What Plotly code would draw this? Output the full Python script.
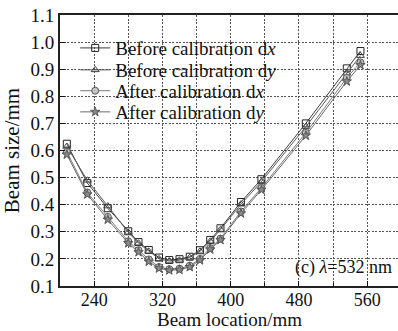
import plotly.graph_objects as go

# ---- data ----
beam_location = [208, 232, 256, 280, 292, 304, 316, 328, 340, 352, 364, 376, 388, 412, 436, 488, 536, 552]
before_dx = [0.625, 0.480, 0.387, 0.302, 0.262, 0.233, 0.205, 0.196, 0.199, 0.208, 0.232, 0.270, 0.313, 0.410, 0.494, 0.700, 0.903, 0.967]
before_dy = [0.615, 0.490, 0.395, 0.298, 0.258, 0.228, 0.200, 0.192, 0.195, 0.205, 0.228, 0.265, 0.308, 0.402, 0.485, 0.688, 0.885, 0.950]
after_dx = [0.595, 0.445, 0.355, 0.265, 0.232, 0.198, 0.170, 0.162, 0.164, 0.175, 0.200, 0.240, 0.275, 0.375, 0.462, 0.665, 0.868, 0.925]
after_dy = [0.585, 0.438, 0.345, 0.258, 0.225, 0.190, 0.165, 0.158, 0.160, 0.170, 0.195, 0.235, 0.270, 0.368, 0.455, 0.655, 0.855, 0.915]

series_names = ["Before calibration d<i>x</i>", "Before calibration d<i>y</i>",
                "After calibration d<i>x</i>", "After calibration d<i>y</i>"]
x_tickvals = [240, 320, 400, 480, 560]
y_tickvals = [0.1, 0.2, 0.3, 0.4, 0.5, 0.6, 0.7, 0.8, 0.9, 1.0, 1.1]
panel_label = "(c) <i>λ</i>=532 nm"
x_title = "Beam location/mm"
y_title = "Beam size/mm"

FONT = "Liberation Serif, Times New Roman, serif"

styles = [
    dict(symbol="square-open", line_color="#3c3c3c", mcolor="#222222", mfill=None, size=7),
    dict(symbol="triangle-up-open", line_color="#5a5a5a", mcolor="#444444", mfill=None, size=7),
    dict(symbol="circle", line_color="#7a7a7a", mcolor="#555555", mfill="#c4c4c4", size=7),
    dict(symbol="star", line_color="#6a6a6a", mcolor="#555555", mfill="#8a8a8a", size=7),
]

# one legend box per entry so the rows can sit as tightly as in the reference
legend_ids = ["legend", "legend2", "legend3", "legend4"]
legend_rows_y = [0.878, 0.797, 0.720, 0.642]

fig = go.Figure()
for name, vals, st, lid in zip(series_names, [before_dx, before_dy, after_dx, after_dy], styles, legend_ids):
    marker = dict(symbol=st["symbol"], size=st["size"],
                  line=dict(color=st["mcolor"], width=1),
                  color=st["mfill"] if st["mfill"] else st["mcolor"])
    fig.add_trace(go.Scatter(
        x=beam_location, y=vals, name=name, mode="lines+markers",
        line=dict(color=st["line_color"], width=1),
        marker=marker, legend=lid,
    ))

fig.add_annotation(
    text=panel_label, xref="paper", yref="paper", x=0.988, y=0.07,
    xanchor="right", yanchor="middle", showarrow=False,
    font=dict(family=FONT, size=18, color="#111"),
)
# x-axis title, placed in the bottom band below the tick labels
fig.add_annotation(
    text=x_title, xref="paper", yref="paper", x=0.5, y=-0.166,
    xanchor="center", yanchor="bottom", showarrow=False, borderpad=0,
    font=dict(family=FONT, size=19, color="#111"),
)

legend_common = dict(
    x=0.045, xanchor="left", yanchor="middle",
    bgcolor="rgba(255,255,255,0)", borderwidth=0,
    font=dict(family=FONT, size=19, color="#111"),
    itemwidth=30,
)
legends = {lid: dict(y=ly, **legend_common) for lid, ly in zip(legend_ids, legend_rows_y)}

fig.update_layout(
    width=398, height=331,
    margin=dict(l=60, r=0, t=15, b=45),
    paper_bgcolor="white", plot_bgcolor="white",
    font=dict(family=FONT, size=18, color="#111"),
    showlegend=True,
    **legends,
    xaxis=dict(
        range=[200, 596], tickvals=x_tickvals, ticktext=[str(v) for v in x_tickvals],
        showgrid=True, gridcolor="#555555", gridwidth=1, griddash="2px,1.5px",
        minor=dict(dtick=40, tick0=200, showgrid=True, gridcolor="#555555",
                   griddash="2px,1.5px", ticks="inside", ticklen=3, tickcolor="#111"),
        ticks="inside", ticklen=5, tickcolor="#111",
        showline=True, linecolor="#222", linewidth=2, mirror=True,
        zeroline=False,
        tickfont=dict(family=FONT, size=18),
        ticklabelstandoff=-4,
        automargin=False,
    ),
    yaxis=dict(
        range=[0.1, 1.1], tickvals=y_tickvals, tickformat=".1f",
        showgrid=True, gridcolor="#555555", gridwidth=1, griddash="2px,1.5px",
        ticks="inside", ticklen=5, tickcolor="#111",
        showline=True, linecolor="#222", linewidth=2, mirror=False,
        zeroline=False,
        title=dict(text=y_title, font=dict(family=FONT, size=21), standoff=6),
        tickfont=dict(family=FONT, size=19),
        automargin=False,
    ),
)

fig.write_html("out.html")
